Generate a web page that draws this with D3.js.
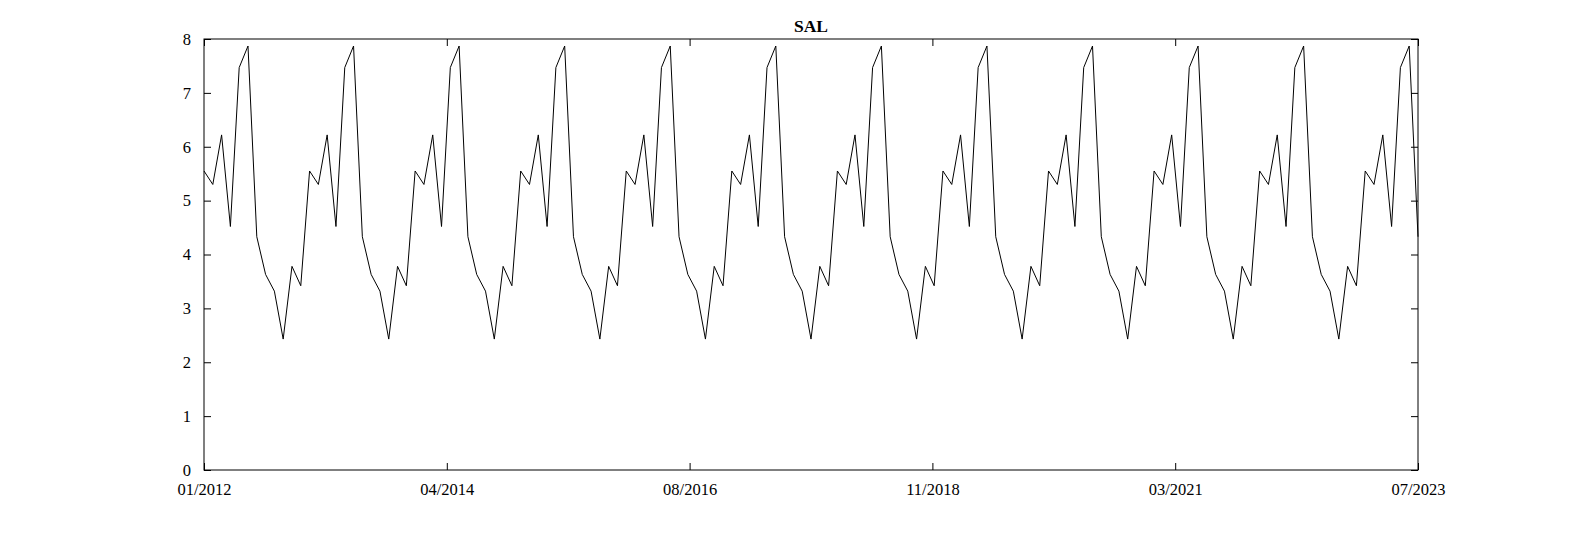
<!DOCTYPE html>
<html><head><meta charset="utf-8">
<script src="https://cdn.jsdelivr.net/npm/d3@7"></script>
<style>html,body{margin:0;padding:0;background:#fff;overflow:hidden;width:1591px;height:537px}svg{display:block}text{font-family:"Liberation Serif","Times New Roman",serif}</style>
</head><body><svg id="c" width="1591" height="537"></svg>
<script>
const title = "SAL";
const startMonth = "01/2012";
const nMonths = 139;
const seasonal = [5.55, 5.30, 6.22, 4.52, 7.47, 7.87, 4.33, 3.63, 3.32, 2.43, 3.78, 3.42];
const xTickLabels = ["01/2012","04/2014","08/2016","11/2018","03/2021","07/2023"];
const yTicks = [0,1,2,3,4,5,6,7,8];
const values = d3.range(nMonths).map(i => seasonal[i % 12]);

const svg = d3.select("#c");
const L=204,R=1418,T=39,B=470;
const x = d3.scaleLinear().domain([0,nMonths-1]).range([L,R]);
const y = d3.scaleLinear().domain([0,8]).range([B,T]);
svg.append("rect").attr("x",L).attr("y",T).attr("width",R-L).attr("height",B-T).attr("fill","none").attr("stroke","#000");
const xt = xTickLabels.map((l,i)=>i*(nMonths-1)/(xTickLabels.length-1));
const fx = (v)=>xTickLabels[xt.indexOf(v)];
const ax = (a,tr)=>{const s=svg.append("g").attr("transform",tr).call(a);s.select(".domain").remove();s.selectAll("text").attr("font-size",16.5).attr("fill","#000");s.selectAll("line").attr("stroke","#000");return s;};
ax(d3.axisBottom(x).tickValues(xt).tickFormat(fx).tickSizeInner(-7).tickPadding(13),`translate(0,${B})`);
ax(d3.axisTop(x).tickValues(xt).tickFormat("").tickSizeInner(-7),`translate(0,${T})`);
ax(d3.axisLeft(y).tickValues(yTicks).tickSizeInner(-7).tickPadding(13),`translate(${L},0)`);
ax(d3.axisRight(y).tickValues(yTicks).tickFormat("").tickSizeInner(-7),`translate(${R},0)`);
svg.append("path").datum(values).attr("fill","none").attr("stroke","#000").attr("stroke-width",1)
 .attr("d",d3.line().x((d,i)=>x(i)).y(d=>y(d)));
svg.append("text").attr("x",(L+R)/2).attr("y",32).attr("text-anchor","middle").attr("font-weight","bold").attr("font-size",17.5).text(title);
</script></body></html>
